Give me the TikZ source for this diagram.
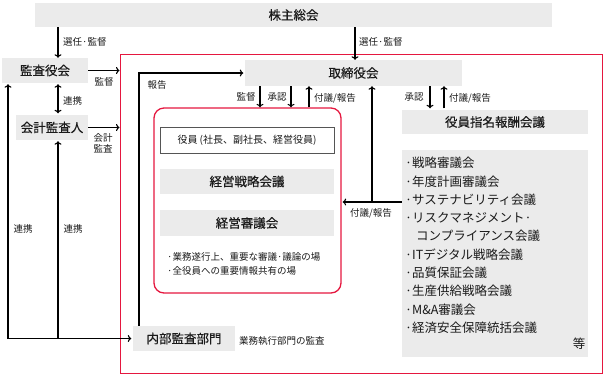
\documentclass[tikz,border=0pt]{standalone}
\usepackage{fontspec}
\setmainfont{Noto Sans CJK JP}
\newfontfamily\titlefont[FakeBold=0.35]{Noto Sans CJK JP}
\usetikzlibrary{arrows.meta,calc}
\definecolor{boxgray}{HTML}{EBEBEB}
\definecolor{redline}{HTML}{E5173F}
\definecolor{txt}{HTML}{1A1A1A}
\definecolor{edge}{HTML}{555555}
\begin{document}
\begin{tikzpicture}[x=1pt,y=-1pt,
  gbox/.style={fill=boxgray, draw=none, inner sep=0pt, text=txt, font=\titlefont\fontsize{12.5}{14}\selectfont},
  lbl/.style={inner sep=0pt, text=txt, font=\fontsize{9.5}{11}\selectfont},
  item/.style={inner sep=0pt, anchor=west, text=txt, font=\fontsize{12.5}{14}\selectfont},
  arr/.style={-{To[length=3.5pt,width=7pt]}, line width=1.1pt},
  dblarr/.style={{To[length=3.5pt,width=7pt]}-{To[length=3.5pt,width=7pt]}, line width=1.1pt}]
\useasboundingbox (0,0) rectangle (604,376);

% frames
\node[draw=redline, line width=1pt, minimum width=482pt, minimum height=319pt, inner sep=0pt] (outer) at (361,213.5) {};
\node[draw=redline, line width=1.3pt, rounded corners=10pt, minimum width=187pt, minimum height=185pt, inner sep=0pt] (inner) at (247.5,200.5) {};

% boxes
\node[gbox, minimum width=517pt, minimum height=24pt] (shm) at (293.5,15) {株主総会};
\node[gbox, minimum width=86pt, minimum height=25pt] (kansa) at (45,70.5) {監査役会};
\node[gbox, minimum width=72pt, minimum height=25pt] (kaikei) at (52,127.5) {会計監査人};
\node[gbox, minimum width=217pt, minimum height=26pt] (torishimari) at (353.5,73) {取締役会};
\node[gbox, minimum width=102pt, minimum height=25pt] (naibu) at (184,338.5) {内部監査部門};
\node[draw=edge, line width=0.8pt, fill=white, inner sep=0pt, text=txt, minimum width=174pt, minimum height=26pt, font=\fontsize{10}{12}\selectfont] (yakuin) at (247,140) {役員 (社長、副社長、経営役員)};
\node[gbox, minimum width=174pt, minimum height=25pt] (senryaku) at (247,181.5) {経営戦略会議};
\node[gbox, minimum width=174pt, minimum height=26pt] (shingi) at (247,223) {経営審議会};
\node[gbox, minimum width=186pt, minimum height=24pt] (shimei) at (495,122) {役員指名報酬会議};
\node[gbox, minimum width=186pt, minimum height=207pt] (list) at (495,253.5) {};

% inner bullets
\node[lbl, anchor=west] (b1) at (167,257) {·業務遂行上、重要な審議·議論の場};
\node[lbl, anchor=west] (b2) at (167,271) {·全役員への重要情報共有の場};

% list items
\node[item] (l1) at (405,163) {·戦略審議会};
\node[item] (l2) at (405,181.3) {·年度計画審議会};
\node[item] (l3) at (405,199.6) {·サステナビリティ会議};
\node[item] (l4) at (405,217.9) {·リスクマネジメント·};
\node[item] (l5) at (416,236.2) {コンプライアンス会議};
\node[item] (l6) at (405,254.5) {·ITデジタル戦略会議};
\node[item] (l7) at (405,272.8) {·品質保証会議};
\node[item] (l8) at (405,291.1) {·生産供給戦略会議};
\node[item] (l9) at (405,309.4) {·M\&A審議会};
\node[item] (l10) at (405,327.7) {·経済安全保障統括会議};
\node[item, anchor=center] (l11) at (579,344) {等};

% helper coordinates
\coordinate (ax) at (58,0);
\coordinate (lx) at (8,0);
\coordinate (hx) at (139,0);
\coordinate (tx) at (355,0);
\coordinate (d1) at (260,0);
\coordinate (d2) at (291,0);
\coordinate (u1) at (309,0);
\coordinate (vx) at (372,0);
\coordinate (cy) at (0,202);
\coordinate (d3) at (430,0);
\coordinate (u3) at (444,0);

% connectors
\draw[arr] (shm.south -| ax) -- (kansa.north -| ax);
\draw[arr] (shm.south -| tx) -- (torishimari.north -| tx);
\draw[arr] (kansa.east) -- (outer.west |- kansa.east);
\draw[arr] (kaikei.east) -- (outer.west |- kaikei.east);
\draw[dblarr] ([yshift=-1pt]kansa.south -| ax) -- ([yshift=1.5pt]kaikei.north -| ax);
\draw[arr] (lx |- naibu.west) -- ([yshift=-1pt]kansa.south -| lx);
\draw[arr] (ax |- naibu.west) -- ([yshift=-1pt]kaikei.south -| ax);
\draw[arr] (lx |- naibu.west) -- ([xshift=-1.5pt]naibu.west);
\draw[arr] (naibu.north -| hx) |- ([xshift=-1.5pt]torishimari.west);
\draw[arr] (torishimari.south -| d1) -- (inner.north -| d1);
\draw[arr] (torishimari.south -| d2) -- (inner.north -| d2);
\draw[arr] (inner.north -| u1) -- (torishimari.south -| u1);
\draw[arr] (list.west |- cy) -- ([xshift=1pt]inner.east |- cy);
\draw[arr] (vx |- cy) -- (torishimari.south -| vx);
\draw[arr] (torishimari.south -| d3) -- ([yshift=1.5pt]shimei.north -| d3);
\draw[arr] ([yshift=1.5pt]shimei.north -| u3) -- (torishimari.south -| u3);

% labels
\node[lbl, anchor=west] (t1) at (63,42) {選任·監督};
\node[lbl, anchor=west] (t2) at (359,42) {選任·監督};
\node[lbl] (t3) at (104,82) {監督};
\node[lbl, anchor=west] (t4) at (63,101) {連携};
\node[lbl, align=center, font=\fontsize{9.5}{11}\selectfont] (t5) at (103,143.5) {会計\\監査};
\node[lbl] (t6) at (157,85) {報告};
\node[lbl] (t7) at (246,97) {監督};
\node[lbl] (t8) at (277,97) {承認};
\node[lbl, anchor=west] (t9) at (314,98) {付議/報告};
\node[lbl] (t10) at (414,97) {承認};
\node[lbl, anchor=west] (t11) at (449,98) {付議/報告};
\node[lbl] (t12) at (371,213) {付議/報告};
\node[lbl] (t13) at (23,229) {連携};
\node[lbl] (t14) at (73,229) {連携};
\node[lbl, anchor=west] (t15) at (239,341) {業務執行部門の監査};
\end{tikzpicture}
\end{document}
